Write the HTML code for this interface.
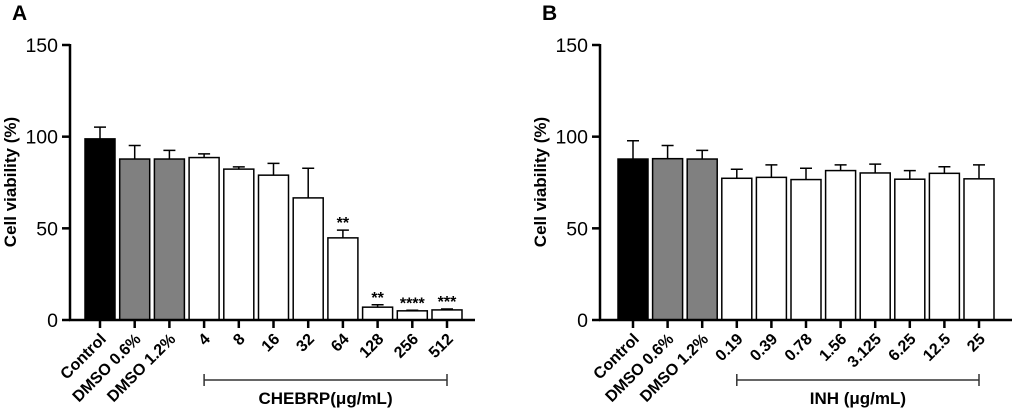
<!DOCTYPE html>
<html><head><meta charset="utf-8">
<style>
html,body{margin:0;padding:0;background:#fff;}
svg{display:block;font-family:"Liberation Sans",Arial,sans-serif;}
</style></head>
<body>
<svg id="chart" width="1017" height="416" viewBox="0 0 1017 416"></svg>
<script>
const catsA = ["Control","DMSO 0.6%","DMSO 1.2%","4","8","16","32","64","128","256","512"];
const valsA = [98.8,87.8,87.8,88.6,82.3,79,66.6,44.8,7,5,5.5];
const errsA = [105.2,95.2,92.5,90.6,83.5,85.4,82.8,49,8.3,5.3,6];
const starsA = ["","","","","","","","**","**","****","***"];
const catsB = ["Control","DMSO 0.6%","DMSO 1.2%","0.19","0.39","0.78","1.56","3.125","6.25","12.5","25"];
const valsB = [87.8,88,87.8,77.3,77.8,76.6,81.5,80.2,76.8,80,77];
const errsB = [97.8,95.2,92.5,82.2,84.6,82.8,84.6,85,81.5,83.6,84.6];
const yTicks = [0,50,100,150];
const colors = ["#000","#808080","#808080"];

const NS="http://www.w3.org/2000/svg";
const svg=document.getElementById('chart');
function mk(tag,attrs,parent){const e=document.createElementNS(NS,tag);for(const k in attrs)e.setAttribute(k,attrs[k]);(parent||svg).appendChild(e);return e;}

function panel(cfg){
  const g=mk('g',{});
  
  
  const y0=320,y150=45;
  const y=v=>y0-(v/150)*(y0-y150);
  const x=i=>cfg.x0+i*cfg.step;
  const bw=30;
  const L=mk('text',{x:cfg.axisX-58,y:20,'font-size':21,'font-weight':'bold'},g);L.textContent=cfg.letter;
  
  
  const ya=mk('line',{x1:cfg.axisX,y1:y150-1,x2:cfg.axisX,y2:y0+1,stroke:'#000','stroke-width':2.5},g);
  
  
  yTicks.forEach(t=>{
    mk('line',{x1:cfg.axisX-8,y1:y(t),x2:cfg.axisX,y2:y(t),stroke:'#000','stroke-width':2.5},g);
    const tx=mk('text',{x:cfg.axisX-12,y:y(t)+7,'font-size':19.5,'text-anchor':'end'},g);tx.textContent=t;
    
    
  });
  const yt=mk('text',{x:0,y:0,'font-size':17,'font-weight':'bold','text-anchor':'middle',transform:`translate(${cfg.axisX-54},182) rotate(-90)`},g);
  yt.textContent='Cell viability (%)';
  
  
  cfg.vals.forEach((v,i)=>{
    const cx=x(i);
    const eb=mk('path',{d:`M${cx} ${y(v)} V${y(cfg.errs[i])} M${cx-6} ${y(cfg.errs[i])} H${cx+6}`,stroke:'#000','stroke-width':1.5,fill:'none'},g);
    
    
    const r=mk('rect',{x:cx-bw/2,y:y(v),width:bw,height:y0-y(v),fill:colors[i]||'#fff',stroke:'#000','stroke-width':1.5},g);
    
    
    mk('line',{x1:cx,y1:y0,x2:cx,y2:y0+8,stroke:'#000','stroke-width':2.5},g);
    const lb=mk('text',{x:0,y:0,'font-size':16,'font-weight':'bold','text-anchor':'end',transform:`translate(${cx+7},${y0+20}) rotate(-45)`},g);
    lb.textContent=cfg.cats[i];
    
    
    if(cfg.stars && cfg.stars[i]){
      const s=mk('text',{x:cx,y:y(cfg.errs[i])-2,'font-size':16,'font-weight':'bold','text-anchor':'middle'},g);
      s.textContent=cfg.stars[i];
      
      
    }
  });
  const xa=mk('line',{x1:cfg.axisX-1,y1:y0,x2:cfg.axisEnd,y2:y0,stroke:'#000','stroke-width':2.5},g);
  
  
  const bx1=x(3),bx2=x(cfg.vals.length-1);
  const br=mk('path',{d:`M${bx1} 374 V386 M${bx1} 380 H${bx2} M${bx2} 374 V386`,stroke:'#333','stroke-width':1.5,fill:'none'},g);
  
  
  const bt=mk('text',{x:(bx1+bx2)/2,y:404,'font-size':17,'font-weight':'bold','text-anchor':'middle'},g);
  bt.textContent=cfg.bracket;
  
  
}
panel({name:'panel-a',letter:'A',axisX:70,axisEnd:475,x0:100,step:34.7,cats:catsA,vals:valsA,errs:errsA,stars:starsA,bracket:'CHEBRP(μg/mL)'});
panel({name:'panel-b',letter:'B',axisX:600,axisEnd:1012,x0:633,step:34.6,cats:catsB,vals:valsB,errs:errsB,stars:null,bracket:'INH (μg/mL)'});
</script>
</body></html>
